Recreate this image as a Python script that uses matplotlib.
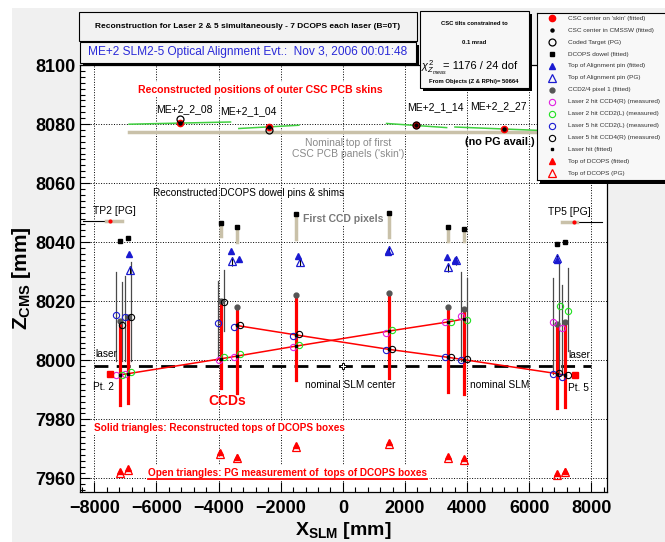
import matplotlib
matplotlib.use("Agg")
import matplotlib.pyplot as plt
from matplotlib.patches import Rectangle
from matplotlib.lines import Line2D
from matplotlib.ticker import MultipleLocator

plt.rcParams["font.family"] = ["Liberation Sans", "DejaVu Sans"]
plt.rcParams["mathtext.fontset"] = "custom"
plt.rcParams["mathtext.rm"] = "Liberation Sans"
plt.rcParams["mathtext.it"] = "Liberation Sans:italic"
plt.rcParams["mathtext.bf"] = "Liberation Sans:bold"

# ---- data (mm) ----
# DCOPS / CCD positions
dcops_x = [-7180, -6900, -3928, -3423, -1513, 1481, 3391, 3896, 6881, 7148]
ccd_top = [8013.4, 8014.5, 8020.0, 8018.0, 8022.1, 8022.8, 8018.1, 8017.3, 8012.3, 8013.1]
ccd_bottom = [7985.0, 7985.6, 7990.7, 7989.0, 7993.3, 7994.1, 7989.3, 7988.7, 7983.8, 7984.1]

# dowel pins and first CCD pixels
dowel_x = [-7181, -6913, -3928, -3404, -1513, 1481, 3391, 3896, 6881, 7148]
dowel_z = [8040.5, 8041.4, 8046.4, 8045.1, 8049.4, 8049.8, 8045.3, 8044.4, 8039.4, 8040.1]
pixel_x = [-3928, -3404, -1513, 1481, 3391, 3896]
pixel_top = [8046.4, 8045.1, 8049.4, 8049.8, 8045.3, 8044.4]
pixel_z = [8042.2, 8040.0, 8041.1, 8041.7, 8040.5, 8040.5]

# alignment pins
pin_x = [-6890, -3606, -3349, -1438, 1460, 3338, 3606, 6881]
pin_z = [8036.0, 8036.9, 8034.3, 8035.4, 8036.6, 8034.9, 8034.0, 8034.0]
pin_pg_x = [-6836, -3564, -1385, 1470, 3370, 3628, 6901]
pin_pg_z = [8030.6, 8033.5, 8033.4, 8037.3, 8031.5, 8033.8, 8034.5]

# measured laser hits
l2_ccd4_x = [-7288, -6997, -3993, -3510, -1620, 1375, 3284, 3790, 6772, 7042]
l2_ccd4_z = [7995.0, 7995.2, 8000.2, 8001.1, 8004.5, 8009.4, 8012.8, 8015.1, 8013.1, 8011.1]
l2_ccd2_x = [-7105, -6826, -3822, -3317, -1417, 1568, 3478, 4003, 6987, 7255]
l2_ccd2_z = [7995.0, 7996.1, 8001.1, 8002.0, 8005.2, 8010.2, 8013.0, 8013.7, 8018.5, 8016.7]
l5_ccd2_x = [-7287, -6997, -4015, -3510, -1620, 1375, 3284, 3790, 6772, 7042]
l5_ccd2_z = [8015.4, 8014.5, 8012.6, 8011.3, 8008.3, 8003.5, 8001.1, 8000.0, 7995.2, 7994.5]
l5_ccd4_x = [-7105, -6826, -3822, -3317, -1417, 1568, 3478, 4003, 6965, 7255]
l5_ccd4_z = [8012.0, 8014.5, 8019.6, 8011.9, 8008.8, 8003.9, 8001.1, 8000.3, 7995.8, 7995.1]

# fitted laser hits (laser 2 and laser 5)
l2_fit_x = [-7180, -6900, -3928, -3423, -1513, 1481, 3391, 3896]
l2_fit_z = [7995.0, 7995.5, 8000.5, 8001.4, 8004.8, 8009.9, 8013.0, 8014.0]
l5_fit_x = [-3423, -1513, 1481, 3391, 3896, 6881, 7148]
l5_fit_z = [8011.8, 8008.6, 8003.7, 8001.0, 8000.2, 7995.5, 7995.0]

# thin CCD measurement lines
gray_x = [-7287, -7105, -7020, -6826, -4015, -3822, 3790, 3983, 6772, 6965, 7042, 7255]
gray_top = [8029.8, 8026.4, 8028.6, 8033.2, 8027.0, 8030.5, 8029.8, 8027.9, 8027.7, 8032.6, 8025.5, 8031.3]
gray_bottom = [7999.8, 7999.8, 7999.8, 7999.8, 8000.9, 8010.0, 7999.8, 7999.8, 7995.2, 7995.2, 7995.2, 8003.2]

# laser sources and nominal laser line
laser_pt_x = [-7503, 7470]
laser_pt_z = [7995.2, 7995.0]
laser_nominal_x = [-8000, 8000]
laser_nominal_z = [7998.2, 7998.2]
slm_center_x = [0]
slm_center_z = [7998.1]

# transfer plates
tp_names = ["TP2 [PG]", "TP5 [PG]"]
tp_bar_x = [(-7609, -7094), (7061, 7525)]
tp_line_x = [(-8362, -7557), (7525, 8330)]
tp_z = [8047.2, 8046.8]
tp_dot_x = [-7503, 7438]

# CSC chambers
csc_names = ["ME+2_2_08", "ME+2_1_04", "ME+2_1_14", "ME+2_2_27"]
csc_x = [-5227, -2383, 2351, 5195]
csc_z = [8080.5, 8079.0, 8079.6, 8078.3]
coded_x = [-5227, -2383, 2351]
coded_z = [8081.6, 8078.1, 8079.6]
skin_x0 = [-6880, -3349, 1407, 3606]
skin_x1 = [-3616, -1417, 3339, 6900]
skin_z0 = [8079.95, 8078.5, 8080.2, 8079.0]
skin_z1 = [8080.7, 8079.6, 8078.8, 8077.6]
nominal_skin_x = [-6880, 6900]
nominal_skin_z = [8077.3, 8077.3]

# tops of DCOPS boxes
top_x = [-7180, -6904, -3941, -3407, -1510, 1481, 3368, 3887, 6878, 7152]
top_z = [7962.6, 7963.4, 7968.8, 7967.4, 7971.4, 7972.2, 7967.6, 7966.8, 7961.8, 7962.6]
top_pg_z = [7962.0, 7962.9, 7968.1, 7966.9, 7970.8, 7971.6, 7967.0, 7966.3, 7961.3, 7962.1]

legend_labels = [
    "CSC center on 'skin' (fitted)", "CSC center in CMSSW (fitted)", "Coded Target (PG)",
    "DCOPS dowel (fitted)", "Top of Alignment pin (fitted)", "Top of Alignment pin (PG)",
    "CCD2/4 pixel 1 (fitted)", "Laser 2 hit CCD4(R) (measured)", "Laser 2 hit CCD2(L) (measured)",
    "Laser 5 hit CCD2(L) (measured)", "Laser 5 hit CCD4(R) (measured)", "Laser hit (fitted)",
    "Top of DCOPS (fitted)", "Top of DCOPS (PG)",
]

# ---- styles ----
RED, BLUE, MAG, GRN = "#ff0000", "#1a1ad0", "#e020e0", "#20e020"
TAN = "#c9c1a9"
STYLES = [
    dict(marker="o", ms=4.5, color=RED, mfc=RED),
    dict(marker="o", ms=2.2, color="black", mfc="black"),
    dict(marker="o", ms=5, color="black", mfc="none", mew=0.9),
    dict(marker="s", ms=3.5, color="black", mfc="black"),
    dict(marker="^", ms=5, color=BLUE, mfc=BLUE),
    dict(marker="^", ms=5.5, color=BLUE, mfc="none", mew=0.9),
    dict(marker="o", ms=3.5, color="#555555", mfc="#555555"),
    dict(marker="o", ms=4.5, color=MAG, mfc="none", mew=0.8),
    dict(marker="o", ms=4.5, color=GRN, mfc="none", mew=0.8),
    dict(marker="o", ms=4.5, color=BLUE, mfc="none", mew=0.8),
    dict(marker="o", ms=4.5, color="black", mfc="none", mew=0.8),
    dict(marker="s", ms=1.8, color="black", mfc="black"),
    dict(marker="^", ms=5, color=RED, mfc=RED),
    dict(marker="^", ms=5.5, color=RED, mfc="none", mew=0.9),
]

W, H = 665, 542
AX_L, AX_R, AX_T, AX_B = 80, 607, 65, 491.7


def fx(px):
    return px / W


def fy(py):
    return 1 - py / H


def pts(x, z, style, **kw):
    ax.plot(x, z, ls="none", **style, **kw)


fig = plt.figure(figsize=(6.65, 5.42), dpi=100, facecolor="#f0f0f0")
fig.add_artist(Rectangle((0, 0), fx(12), 1, transform=fig.transFigure, fc="white", ec="none", zorder=0))
fig.add_artist(Rectangle((0, fy(8)), 1, 1, transform=fig.transFigure, fc="white", ec="none", zorder=0))

ax = fig.add_axes([fx(AX_L), fy(AX_B), fx(AX_R) - fx(AX_L), fy(AX_T) - fy(AX_B)])
ax.set_xlim(-8460, 8500)
ax.set_ylim(7955.5, 8100)
ax.xaxis.set_major_locator(MultipleLocator(2000))
ax.xaxis.set_minor_locator(MultipleLocator(400))
ax.yaxis.set_major_locator(MultipleLocator(20))
ax.yaxis.set_minor_locator(MultipleLocator(2))
ax.tick_params(which="both", direction="in", labelsize=13, width=0.8)
ax.tick_params(which="major", length=7)
ax.tick_params(which="minor", length=3.5)
ax.tick_params(axis="x", which="major", pad=6)
ax.tick_params(axis="y", which="major", pad=3)
for lab in ax.get_xticklabels() + ax.get_yticklabels():
    lab.set_fontweight("bold")
ax.grid(True, which="major", ls=":", color="black", lw=0.7)
ax.set_axisbelow(True)
for sp in ax.spines.values():
    sp.set_linewidth(0.9)

ax_h = AX_B - AX_T
ax_w = AX_R - AX_L
ax.set_xlabel(r"$\mathbf{X_{SLM}\ [mm]}$", fontsize=14)
ax.xaxis.set_label_coords(0.5, -(520 - AX_B) / ax_h)
ax.set_ylabel(r"$\mathbf{Z_{CMS}\ [mm]}$", fontsize=15)
ax.yaxis.set_label_coords(-(AX_L - 33) / ax_w, 0.5)

# nominal CSC skin and fitted skins
ax.plot(nominal_skin_x, nominal_skin_z, color=TAN, lw=2.5, zorder=2)
for x0, x1, z0, z1 in zip(skin_x0, skin_x1, skin_z0, skin_z1):
    ax.plot([x0, x1], [z0, z1], color="#40d040", lw=1.1, zorder=2)

# transfer plates
for name, bx, lx, z, dx in zip(tp_names, tp_bar_x, tp_line_x, tp_z, tp_dot_x):
    ax.plot(lx, [z, z], color="black", lw=0.8, zorder=2)
    ax.plot(bx, [z, z], color=TAN, lw=2.5, zorder=3)
    ax.plot([dx], [z], marker="o", ms=2, color=RED, zorder=4)
    ax.text(sum(bx) / 2, z + 3.3, name, ha="center", va="center", fontsize=7.5)

# nominal laser line
ax.plot(laser_nominal_x, laser_nominal_z, color="black", ls=(0, (5, 3)), lw=2, zorder=2)
ax.plot(slm_center_x, slm_center_z, ls="none", marker="P", ms=5, mfc="white", mec="black", mew=0.7, zorder=6)

# thin CCD lines
for x, t, b in zip(gray_x, gray_top, gray_bottom):
    ax.plot([x, x], [b, t], color="#4a4a4a", lw=0.9, zorder=3)

# first CCD pixel bars
for x, t, b in zip(pixel_x, pixel_top, pixel_z):
    ax.plot([x, x], [b, t], color=TAN, lw=2.5, zorder=3)

# CCDs
for x, t, b in zip(dcops_x, ccd_top, ccd_bottom):
    ax.plot([x, x], [b, t], color=RED, lw=2.3, zorder=4)

# laser fits
ax.plot(l2_fit_x, l2_fit_z, color=RED, lw=1.1, zorder=5)
ax.plot(l5_fit_x, l5_fit_z, color=RED, lw=1.1, zorder=5)

# markers
pts(csc_x, csc_z, STYLES[0], zorder=6)
pts(csc_x, csc_z, STYLES[1], zorder=7)
pts(coded_x, coded_z, STYLES[2], zorder=7)
pts(dowel_x, dowel_z, STYLES[3], zorder=6)
ax.errorbar(pin_pg_x, pin_pg_z, yerr=1.5, fmt="none", ecolor="black", elinewidth=0.8, zorder=5)
pts(pin_x, pin_z, STYLES[4], zorder=6)
pts(pin_pg_x, pin_pg_z, STYLES[5], zorder=6)
pts(dcops_x, ccd_top, STYLES[6], zorder=6)
pts(l2_ccd4_x, l2_ccd4_z, STYLES[7], zorder=6)
pts(l2_ccd2_x, l2_ccd2_z, STYLES[8], zorder=6)
pts(l5_ccd2_x, l5_ccd2_z, STYLES[9], zorder=6)
pts(l5_ccd4_x, l5_ccd4_z, STYLES[10], zorder=6)
pts(l2_fit_x, l2_fit_z, STYLES[11], zorder=7)
pts(l5_fit_x, l5_fit_z, STYLES[11], zorder=7)
pts(top_x, top_pg_z, STYLES[13], zorder=6)
pts(top_x, top_z, STYLES[12], zorder=6)
ax.plot(laser_pt_x, laser_pt_z, ls="none", marker="s", ms=5, color=RED, zorder=6)

# annotations
white = dict(fc="white", ec="none", pad=1.5)
ax.text(-2672, 8091.7, "Reconstructed positions of outer CSC PCB skins", color=RED,
        fontsize=7.6, fontweight="bold", ha="center", va="center", bbox=white)
label_dx = [140, -670, 610, -190]
label_z = [8084.9, 8084.5, 8085.6, 8086.1]
for name, x, dx, z in zip(csc_names, csc_x, label_dx, label_z):
    ax.text(x + dx, z, name, fontsize=7.5, ha="center", va="center")
ax.text(170, 8071.8, "Nominal top of first\nCSC PCB panels ('skin')", color="#8a8a8a",
        fontsize=7.5, ha="center", va="center", linespacing=1.15)
ax.text(5055, 8073.8, "(no PG avail.)", fontsize=7.8, fontweight="bold", ha="center", va="center")
ax.text(-3037, 8056.6, "Reconstructed DCOPS dowel pins & shims", fontsize=7.2, ha="center", va="center")
ax.text(0, 8047.9, "First CCD pixels", color="#777777", fontsize=7.5, fontweight="bold",
        ha="center", va="center", bbox=white)
ax.text(-3725, 7986.2, "CCDs", color=RED, fontsize=10, fontweight="bold", ha="center", va="center")
ax.text(225, 7991.6, "nominal SLM center", fontsize=7.3, ha="center", va="center")
ax.text(5033, 7991.8, "nominal SLM", fontsize=7.3, ha="center", va="center")
ax.text(-7620, 8002.0, "laser", fontsize=7.3, ha="center", va="center")
ax.text(7600, 8001.8, "laser", fontsize=7.3, ha="center", va="center")
ax.text(-7700, 7991.0, "Pt. 2", fontsize=7.3, ha="center", va="center")
ax.text(7577, 7990.7, "Pt. 5", fontsize=7.3, ha="center", va="center")
ax.text(-8010, 7977.0, "Solid triangles: Reconstructed tops of DCOPS boxes", color=RED,
        fontsize=7.2, fontweight="bold", ha="left", va="center", bbox=white)
open_txt = ax.text(-6260, 7962.0, "Open triangles: PG measurement of  tops of DCOPS boxes", color=RED,
                   fontsize=7.2, fontweight="bold", ha="left", va="center", bbox=white)

# ---- title panes ----
def pane(x0, y0, x1, y1, shadow=0, fc="#f7f7f7", z=3):
    if shadow:
        fig.add_artist(Rectangle((fx(x0 + shadow), fy(y1 + shadow)), fx(x1) - fx(x0), fy(y0) - fy(y1),
                                 transform=fig.transFigure, fc="black", ec="none", zorder=z))
    fig.add_artist(Rectangle((fx(x0), fy(y1)), fx(x1) - fx(x0), fy(y0) - fy(y1),
                             transform=fig.transFigure, fc=fc, ec="black", lw=0.8, zorder=z + 0.1))


pane(79, 11.7, 417, 40.7, fc="#f2f2f2")
fig.text(fx(248), fy(26), "Reconstruction for Laser 2 & 5 simultaneously - 7 DCOPS each laser (B=0T)",
         fontsize=6.05, fontweight="bold", ha="center", va="center", zorder=4)
pane(80, 41.7, 416, 62.7, shadow=3, fc="#f7f7f7")
fig.text(fx(248), fy(52.5), "ME+2 SLM2-5 Optical Alignment Evt.:  Nov 3, 2006 00:01:48",
         color="#2a2ad8", fontsize=8.6, ha="center", va="center", zorder=4)
pane(420, 11, 529, 87.5, shadow=3, fc="#f7f7f7")
fig.text(fx(474), fy(23.5), "CSC tilts constrained to", fontsize=4.2, fontweight="bold",
         ha="center", va="center", zorder=4)
fig.text(fx(474), fy(43), "0.1 mrad", fontsize=4.2, fontweight="bold", ha="center", va="center", zorder=4)
fig.text(fx(421), fy(68), r"$\chi^{2}_{Z_{meas}}$", fontsize=7.8, ha="left", va="center", zorder=4)
fig.text(fx(443), fy(66), "= 1176 / 24 dof", fontsize=8.0, ha="left", va="center", zorder=4)
fig.text(fx(474), fy(82), "From Objects (Z & RPhi)= 50664", fontsize=4.2, fontweight="bold",
         ha="center", va="center", zorder=4)

# ---- legend pane ----
fig.add_artist(Rectangle((fx(540), fy(183.5)), 1, fy(180) - fy(183.5), transform=fig.transFigure,
                         fc="black", ec="none", zorder=4))
legax = fig.add_axes([fx(537), fy(180), fx(670) - fx(537), fy(12.7) - fy(180)], zorder=5)
legax.set_xlim(537, 670)
legax.set_ylim(180, 12.7)
legax.set_facecolor("#f8f8f8")
legax.set_xticks([])
legax.set_yticks([])
for sp in legax.spines.values():
    sp.set_linewidth(0.8)
for i, (lab, st) in enumerate(zip(legend_labels, STYLES)):
    y = 18.3 + i * 11.92
    legax.plot([551.5], [y], ls="none", **st)
    legax.text(568, y, lab, fontsize=4.6, color="#333333", ha="left", va="center")

# underline for the open-triangle note
fig.canvas.draw()
bb = open_txt.get_window_extent().transformed(fig.transFigure.inverted())
fig.add_artist(Line2D([bb.x0, bb.x1], [bb.y0 - 0.002, bb.y0 - 0.002], transform=fig.transFigure,
                      color=RED, lw=1.3, zorder=3))

fig.savefig("out.png", dpi=100, facecolor=fig.get_facecolor())
